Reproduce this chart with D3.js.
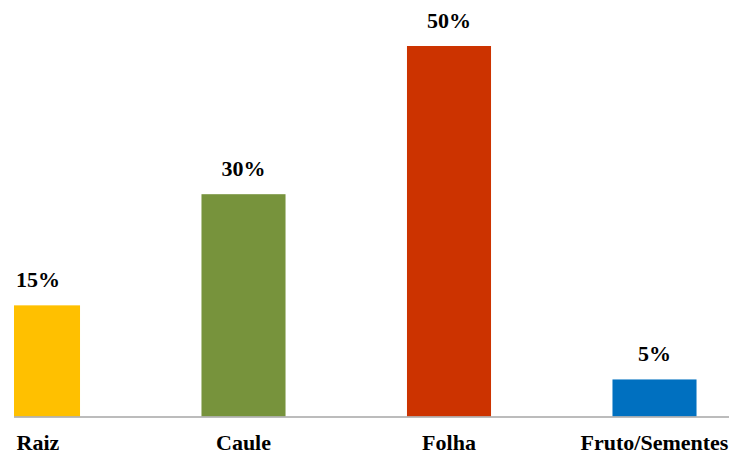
<!DOCTYPE html>
<html><head><meta charset="utf-8">
<script src="https://cdn.jsdelivr.net/npm/d3@7"></script>
<style>html,body{margin:0;padding:0;background:#fff;overflow:hidden}</style>
</head><body>
<svg id="c" width="729" height="454"></svg>
<script>
const categories = ["Raiz", "Caule", "Folha", "Fruto/Sementes"];
const values = [15, 30, 50, 5];
const colors = ["#FFC000", "#77933C", "#CC3300", "#0070C0"];
const valueLabels = ["15%", "30%", "50%", "5%"];

const svg = d3.select("#c");
const base = 416.5;
const y = d3.scaleLinear().domain([0, 50]).range([base, 46]);
const x = d3.scaleBand().domain(categories).range([-64.75, 757.25]).paddingInner(0.591).paddingOuter(0.2955);

svg.append("defs").append("clipPath").attr("id","pc")
  .append("rect").attr("x",14).attr("y",0).attr("width",715).attr("height",454);

const g = svg.append("g").attr("clip-path","url(#pc)");
g.selectAll("rect.bar").data(categories).enter().append("rect")
  .attr("class","bar")
  .attr("x", d => x(d)).attr("width", x.bandwidth())
  .attr("y", (d,i) => y(values[i])).attr("height", (d,i) => base - y(values[i]))
  .attr("fill", (d,i) => colors[i]);

svg.append("line").attr("x1",14).attr("x2",729).attr("y1",base+0.5).attr("y2",base+0.5)
  .attr("stroke","#A6A6A6").attr("stroke-width",1.5);

svg.selectAll("text.val").data(categories).enter().append("text")
  .attr("class","val")
  .attr("x", d => Math.max(x(d) + x.bandwidth()/2, 36))
  .attr("y", (d,i) => y(values[i]) - 18)
  .attr("text-anchor","middle")
  .attr("font-size",22).attr("font-weight","bold")
  .style("font-family", '"Liberation Serif"')
  .attr("fill","#000")
  .text((d,i) => valueLabels[i]);

svg.selectAll("text.cat").data(categories).enter().append("text")
  .attr("class","cat")
  .attr("x", d => Math.max(x(d) + x.bandwidth()/2, 36))
  .attr("y", 450)
  .attr("text-anchor","middle")
  .attr("font-size",22).attr("font-weight","bold")
  .style("font-family", '"Liberation Serif"')
  .attr("fill","#000")
  .text(d => d);
</script>
</body></html>
